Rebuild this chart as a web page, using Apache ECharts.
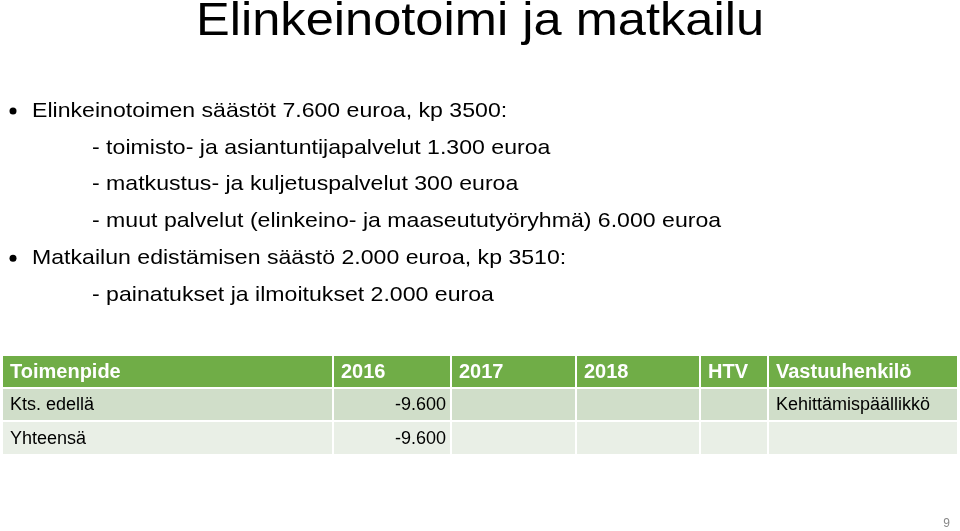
<!DOCTYPE html>
<html><head><meta charset="utf-8">
<script src="https://cdn.jsdelivr.net/npm/echarts@6/dist/echarts.min.js"></script>
<style>html,body{margin:0;padding:0;background:#fff}#main{width:960px;height:531px}</style>
</head><body><div id="main"></div>
<script>
// tekstit
var title = 'Elinkeinotoimi ja matkailu';
var lines = [
    [0, 'Elinkeinotoimen säästöt 7.600 euroa, kp 3500:'],
    [1, '- toimisto- ja asiantuntijapalvelut 1.300 euroa'],
    [1, '- matkustus- ja kuljetuspalvelut 300 euroa'],
    [1, '- muut palvelut (elinkeino- ja maaseututyöryhmä) 6.000 euroa'],
    [0, 'Matkailun edistämisen säästö 2.000 euroa, kp 3510:'],
    [1, '- painatukset ja ilmoitukset 2.000 euroa']
];
// taulukko
var headers = ['Toimenpide', '2016', '2017', '2018', 'HTV', 'Vastuuhenkilö'];
var rows = [
    ['Kts. edellä', '-9.600', '', '', '', 'Kehittämispäällikkö'],
    ['Yhteensä', '-9.600', '', '', '', '']
];
var colX = [2, 333, 451, 576, 700, 768, 958];
var rowY = [355, 388, 421, 455];
var rowFill = ['#70AD47', '#D0DEC9', '#E9EFE6'];

var font = '"Liberation Sans", Arial, sans-serif';
var els = [];
els.push({type:'text', x:480, y:22, scaleX:1.1, style:{text:title, font:'46px ' + font, fill:'#000', align:'center', verticalAlign:'middle'}});
for (var i = 0; i < lines.length; i++) {
    var y = 111 + i * 36.8;
    var x = 92;
    if (lines[i][0] === 0) {
        els.push({type:'circle', shape:{cx:13, cy:y, r:3.5}, style:{fill:'#000'}});
        x = 32;
    }
    els.push({type:'text', x:x, y:y, scaleX:1.1, style:{text:lines[i][1], font:'21px ' + font, fill:'#000', verticalAlign:'middle'}});
}
var all = [headers].concat(rows);
for (var r = 0; r < all.length; r++) {
    for (var c = 0; c < headers.length; c++) {
        var x0 = colX[c], x1 = colX[c + 1], y0 = rowY[r], y1 = rowY[r + 1];
        els.push({type:'rect', shape:{x:x0, y:y0, width:x1 - x0, height:y1 - y0},
            style:{fill:rowFill[r], stroke:'#fff', lineWidth:2}});
        var t = all[r][c];
        if (!t) continue;
        var right = (r > 0 && c === 1);
        els.push({type:'text', x:right ? x1 - 5 : x0 + 8, y:(y0 + y1) / 2 + 1,
            style:{text:t, font:(r === 0 ? 'bold 20px ' : '18px ') + font,
                fill:r === 0 ? '#fff' : '#000', align:right ? 'right' : 'left', verticalAlign:'middle'}});
    }
}
els.push({type:'text', x:950, y:524, style:{text:'9', font:'12px ' + font, fill:'#888', align:'right', verticalAlign:'middle'}});

var myChart = echarts.init(document.getElementById('main'));
myChart.setOption({animation:false, graphic:{elements:els}});
</script></body></html>
